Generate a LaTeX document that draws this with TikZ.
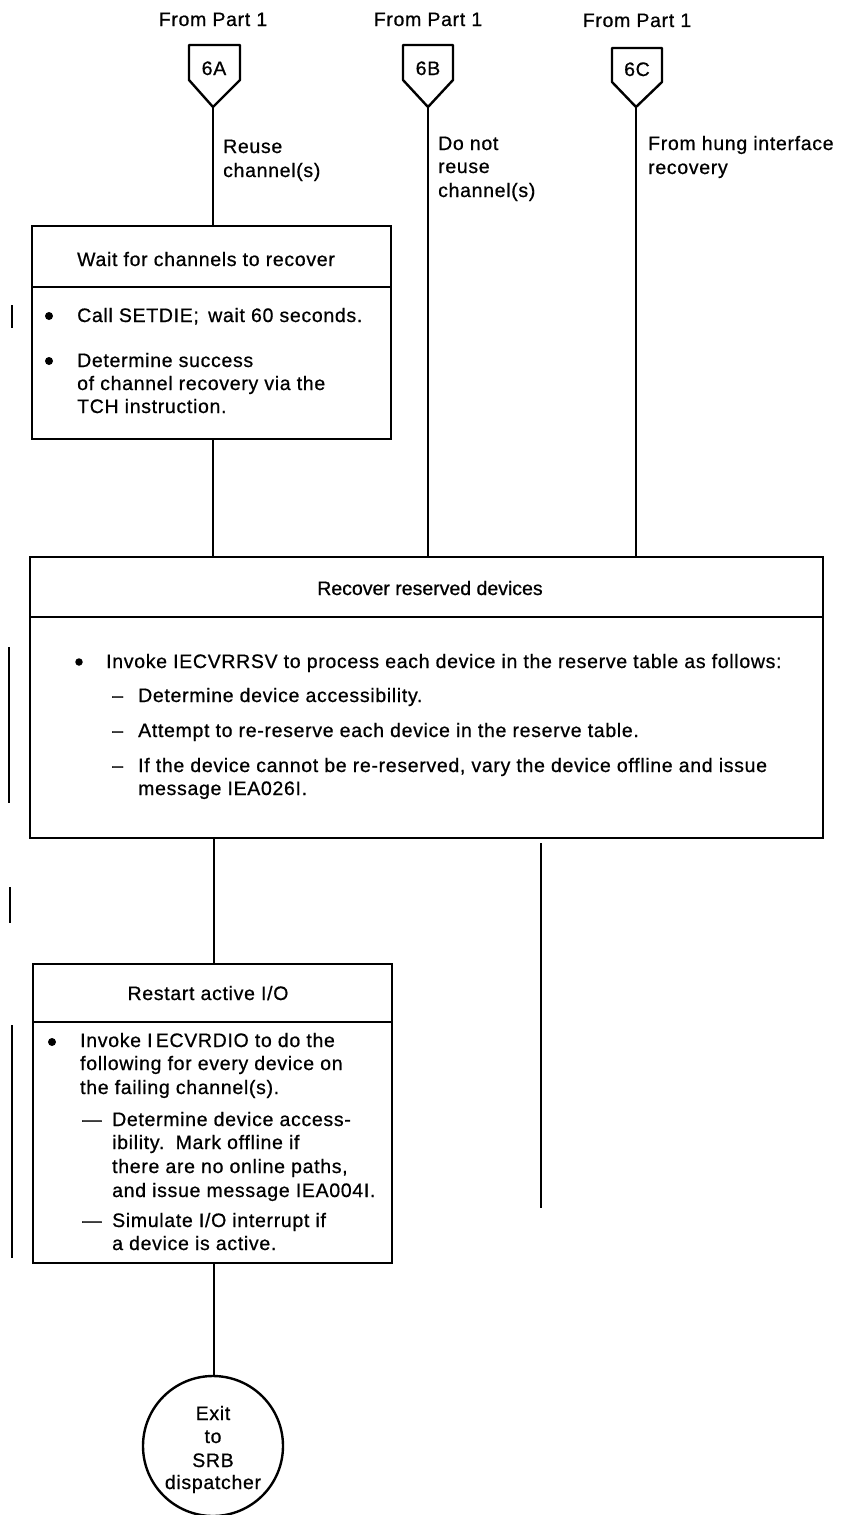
\documentclass[tikz,border=0pt]{standalone}
\usepackage{fontspec}
\setmainfont{Liberation Sans}[LetterSpace=3.5,FakeBold=0.7]
\newfontfamily\plainsans{Liberation Sans}[FakeBold=0.7]
\begin{document}
\begin{tikzpicture}[x=1pt,y=-1pt,
  font=\fontsize{19.5}{23}\selectfont,
  frame/.style={draw,line width=2.4pt,inner sep=0pt},
  conn/.style={line width=1.5pt},
  chbar/.style={line width=2.4pt},
  txt/.style={anchor=base west,inner sep=0pt},
  ctxt/.style={anchor=base,inner sep=0pt},
  dot/.style={fill,circle,inner sep=0pt,minimum size=8pt}]
\useasboundingbox (0,0) rectangle (841,1515);

% ---- off-page connectors from Part 1
\node[ctxt] (fromA) at (213,26) {From Part 1};
\node[ctxt] (fromB) at (428,26) {From Part 1};
\node[ctxt] (fromC) at (637,27) {From Part 1};

\draw[line width=2.4pt,line join=round] (189,45) -- (240,45) -- (240,80) -- (213,107) -- (189,80) -- cycle;
\draw[line width=2.4pt,line join=round] (403,45) -- (453,45) -- (453,80) -- (428,107) -- (403,80) -- cycle;
\draw[line width=2.4pt,line join=round] (612,48) -- (662,48) -- (662,82) -- (636,107) -- (612,82) -- cycle;
\node[ctxt] (labA) at (214,75) {6A};
\node[ctxt] (labB) at (428,75) {6B};
\node[ctxt] (labC) at (637,76) {6C};
\coordinate (tipA) at (213,107);
\coordinate (tipB) at (428,107);
\coordinate (tipC) at (636,107);

% ---- path labels
\node[txt] (reuse1) at (223,153) {Reuse};
\node[txt] (reuse2) at (223,177) {channel(s)};
\node[txt] (noreuse1) at (438,150) {Do not};
\node[txt] (noreuse2) at (438,173) {reuse};
\node[txt] (noreuse3) at (438,197) {channel(s)};
\node[txt] (hung1) at (648,150) {From hung interface};
\node[txt] (hung2) at (648,174) {recovery};

% ---- boxes
\node[frame,anchor=north west,minimum width=359pt,minimum height=213pt] (wait) at (31,225) {};
\draw[line width=2.4pt] (31,287) -- (390,287);
\node[frame,anchor=north west,minimum width=793pt,minimum height=281pt] (rsv) at (29,556) {};
\draw[line width=2.4pt] (29,617) -- (822,617);
\node[frame,anchor=north west,minimum width=359pt,minimum height=299pt] (rio) at (32,963) {};
\draw[line width=2.4pt] (32,1022) -- (391,1022);
\node[frame,circle,minimum size=140pt] (exit) at (213,1446) {};

% ---- connectors
\draw[conn] (tipA) -- (tipA |- wait.north);
\draw[conn] (tipA |- wait.south) -- (tipA |- rsv.north);
\draw[conn] (tipB) -- (tipB |- rsv.north);
\draw[conn] (tipC) -- (tipC |- rsv.north);
\draw[conn] ([xshift=1pt]tipA |- rsv.south) -- ([xshift=1pt]tipA |- rio.north);
\draw[conn] ([xshift=1pt]tipA |- rio.south) -- ([xshift=1pt]tipA |- exit.north);
\coordinate (free1) at (541,843);
\coordinate (free2) at (541,1208);
\draw[conn] (free1) -- (free2);

% ---- Wait for channels to recover
\node[ctxt] (waitT) at (206,266) {Wait for channels to recover};
\node[dot] (wb1) at (49,316) {};
\node[txt] (w1) at (77,322) {Call SETDIE;\, wait 60 seconds.};
\node[dot] (wb2) at (49,361) {};
\node[txt] (w2) at (77,367) {Determine success};
\node[txt] (w3) at (77,390) {of channel recovery via the};
\node[txt] (w4) at (77,413) {TCH instruction.};

% ---- Recover reserved devices
\node[ctxt,font=\plainsans\fontsize{19.5}{23}\selectfont] (rsvT) at (430,595) {Recover reserved devices};
\node[dot,minimum size=7.5pt] (rb1) at (79,662) {};
\node[txt] (r1) at (106,668) {Invoke IECVRRSV to process each device in the reserve table as follows:};
\node[txt] (rd1) at (112,702) {\textendash};
\node[txt] (r2) at (138,702) {Determine device accessibility.};
\node[txt] (rd2) at (112,737) {\textendash};
\node[txt] (r3) at (138,737) {Attempt to re-reserve each device in the reserve table.};
\node[txt] (rd3) at (112,772) {\textendash};
\node[txt] (r4) at (138,772) {If the device cannot be re-reserved, vary the device offline and issue};
\node[txt] (r5) at (138,795) {message IEA026I.};

% ---- Restart active I/O
\node[ctxt] (rioT) at (208,1000) {Restart active I/O};
\node[dot] (ib1) at (52,1042) {};
\node[txt] (i1) at (80,1047) {Invoke I\,ECVRDIO to do the};
\node[txt] (i2) at (80,1070) {following for every device on};
\node[txt] (i3) at (80,1094) {the failing channel(s).};
\node[txt] (id1) at (82,1126) {\textemdash};
\node[txt] (i4) at (112,1126) {Determine device access-};
\node[txt] (i5) at (112,1149) {ibility.\, Mark offline if};
\node[txt] (i6) at (112,1173) {there are no online paths,};
\node[txt] (i7) at (112,1197) {and issue message IEA004I.};
\node[txt] (id2) at (82,1227) {\textemdash};
\node[txt] (i8) at (112,1227) {Simulate I/O interrupt if};
\node[txt] (i9) at (112,1250) {a device is active.};

% ---- exit
\node[ctxt] (e1) at (213,1420) {Exit};
\node[ctxt] (e2) at (213,1443) {to};
\node[ctxt] (e3) at (213,1467) {SRB};
\node[ctxt] (e4) at (213,1489) {dispatcher};

% ---- change bars in the margin
\draw[chbar] (12,305) -- (12,328);
\draw[line width=1.8pt] (9,647) -- (9,803);
\draw[chbar] (10,887) -- (10,923);
\draw[line width=1.8pt] (12,1025) -- (12,1258);
\end{tikzpicture}
\end{document}
